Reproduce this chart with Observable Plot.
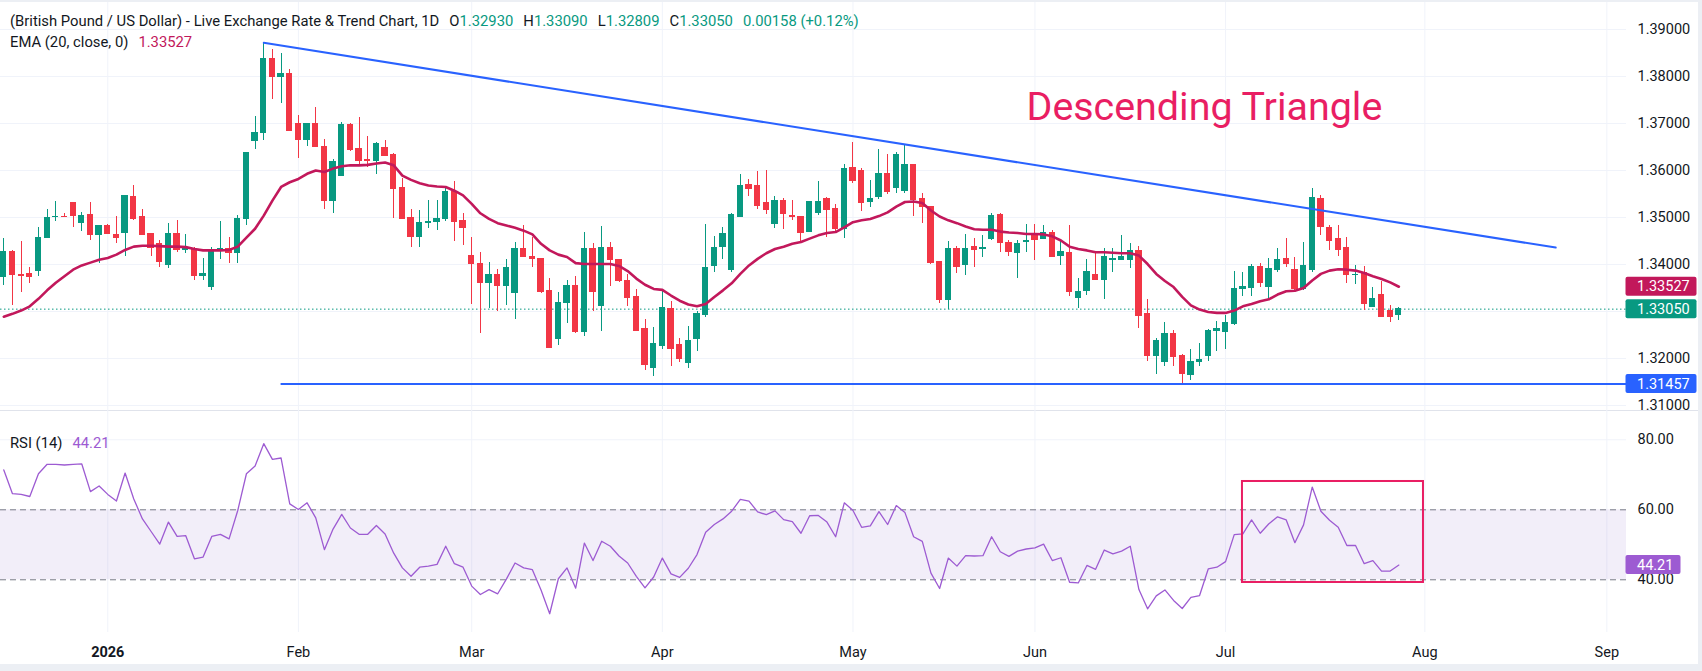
<!DOCTYPE html>
<html>
<head>
<meta charset="utf-8">
<title>GBP/USD daily chart</title>
<script src="https://cdn.jsdelivr.net/npm/d3@7"></script>
<script src="https://cdn.jsdelivr.net/npm/@observablehq/plot@0.6"></script>
<style>
  html, body { margin: 0; padding: 0; }
  body { width: 1702px; height: 671px; position: relative; overflow: hidden; background: #fff;
         font-family: Roboto, "Noto Sans", sans-serif; color: #131722; }
  .edge { position: absolute; background: #eceff4; }
  #price, #rsi { position: absolute; left: 0; }
  #price { top: 2px; }
  #rsi { top: 411px; }
  #price svg, #rsi svg { overflow: visible; }
  .sep { position: absolute; left: 0; top: 410px; width: 1698px; height: 1px; background: #e0e3eb; }
  .legend { position: absolute; left: 10px; font-size: 14.8px; line-height: 18px; white-space: nowrap; }
  .legend .gap { margin-left: 10px; }
  .up { color: #089981; }
  .ema { color: #c2185b; }
  .rsiv { color: #9d5bd2; }
</style>
</head>
<body>
<div id="rsi"></div>
<div class="sep"></div>
<div id="price"></div>
<div class="legend" id="lg1" style="top:12px"></div>
<div class="legend" id="lg2" style="top:33px"></div>
<div class="legend" id="lg3" style="top:434px"></div>
<div class="edge" style="left:0;top:0;width:1702px;height:2px"></div>
<div class="edge" style="left:1698px;top:0;width:4px;height:671px"></div>
<div class="edge" style="left:0;top:664px;width:1702px;height:7px"></div>
<script>
// Daily GBP/USD candles, one entry per trading day (mid-Dec 2025 to end of Jul 2026)
const open = [
  1.3373,1.3426,1.3378,1.3379,1.3386,1.3456,1.3501,1.3502,1.3531,1.3488,
  1.3506,1.3462,1.3481,1.3462,1.3467,1.3543,1.3500,1.3464,1.3443,1.3399,
  1.3464,1.3430,1.3433,1.3375,1.3352,1.3428,1.3433,1.3424,1.3496,1.3662,
  1.3680,1.3838,1.3799,1.3806,1.3698,1.3665,1.3698,1.3651,1.3536,1.3589,
  1.3696,1.3645,1.3622,1.3620,1.3647,1.3632,1.3562,1.3499,1.3458,1.3489,
  1.3490,1.3496,1.3555,1.3492,1.3419,1.3401,1.3360,1.3377,1.3355,1.3339,
  1.3434,1.3417,1.3412,1.3343,1.3241,1.3318,1.3355,1.3256,1.3432,1.3311,
  1.3436,1.3409,1.3365,1.3330,1.3262,1.3180,1.3226,1.3305,1.3228,1.3191,
  1.3241,1.3292,1.3397,1.3437,1.3389,1.3501,1.3570,1.3566,1.3531,1.3487,
  1.3536,1.3504,1.3502,1.3470,1.3509,1.3540,1.3518,1.3475,1.3606,1.3598,
  1.3533,1.3543,1.3593,1.3562,1.3556,1.3612,1.3540,1.3523,1.3405,1.3325,
  1.3433,1.3398,1.3438,1.3433,1.3455,1.3506,1.3446,1.3424,1.3448,1.3460,
  1.3455,1.3467,1.3418,1.3424,1.3328,1.3343,1.3377,1.3367,1.3409,1.3410,
  1.3410,1.3428,1.3294,1.3206,1.3193,1.3252,1.3205,1.3165,1.3193,1.3205,
  1.3258,1.3257,1.3273,1.3347,1.3350,1.3395,1.3353,1.3389,1.3412,1.3389,
  1.3348,1.3389,1.3539,1.3478,1.3455,1.3436,1.3377,1.3382,1.3310,1.3336,
  1.3301,1.3293
];
const high = [
  1.3456,1.3429,1.3448,1.3393,1.3479,1.3518,1.3534,1.3509,1.3531,1.3511,
  1.3531,1.3483,1.3485,1.3502,1.3547,1.3568,1.3517,1.3467,1.3451,1.3488,
  1.3494,1.3464,1.3436,1.3412,1.3436,1.3491,1.3458,1.3504,1.3638,1.3715,
  1.38716,1.3857,1.3848,1.3814,1.3717,1.3698,1.3733,1.3665,1.3623,1.3703,
  1.3699,1.3712,1.3672,1.3660,1.3664,1.3636,1.3582,1.3516,1.3515,1.3536,
  1.3536,1.3566,1.3577,1.3509,1.3458,1.3426,1.3405,1.3389,1.3411,1.3447,
  1.3483,1.3458,1.3413,1.3370,1.3340,1.3366,1.3374,1.3469,1.3444,1.3481,
  1.3447,1.3411,1.3378,1.3347,1.3284,1.3265,1.3347,1.3322,1.3243,1.3269,
  1.3301,1.3485,1.3460,1.3479,1.3509,1.3592,1.3581,1.3597,1.3600,1.3545,
  1.3540,1.3536,1.3502,1.3535,1.3577,1.3543,1.3528,1.3612,1.3659,1.3604,
  1.3579,1.3644,1.3634,1.3639,1.3655,1.3613,1.3550,1.3524,1.3405,1.3449,
  1.3438,1.3464,1.3455,1.3462,1.3509,1.3509,1.3450,1.3451,1.3485,1.3485,
  1.3483,1.3472,1.3453,1.3483,1.3370,1.3411,1.3423,1.3433,1.3433,1.3462,
  1.3445,1.3438,1.3326,1.3243,1.3276,1.3259,1.3209,1.3220,1.3232,1.3262,
  1.3278,1.3292,1.3386,1.3382,1.3399,1.3402,1.3412,1.3433,1.3455,1.3415,
  1.3447,1.3561,1.3547,1.3483,1.3482,1.3457,1.3397,1.3396,1.3351,1.3364,
  1.3313,1.3309
];
const low = [
  1.3355,1.3313,1.3341,1.3359,1.3375,1.3456,1.3492,1.3499,1.3479,1.3470,
  1.3451,1.3403,1.3463,1.3444,1.3416,1.3494,1.3462,1.3417,1.3394,1.3392,
  1.3426,1.3423,1.3365,1.3366,1.3345,1.3410,1.3403,1.3403,1.3483,1.3645,
  1.3664,1.3751,1.3743,1.3682,1.3625,1.3651,1.3648,1.3518,1.3509,1.3588,
  1.3640,1.3609,1.3607,1.3592,1.3630,1.3497,1.3496,1.3436,1.3437,1.3477,
  1.3472,1.3492,1.3448,1.3440,1.3315,1.3254,1.3306,1.3299,1.3313,1.3284,
  1.3414,1.3394,1.3339,1.3221,1.3227,1.3275,1.3254,1.3247,1.3301,1.3257,
  1.3354,1.3361,1.3311,1.3258,1.3175,1.3161,1.3220,1.3182,1.3191,1.3179,
  1.3214,1.3288,1.3382,1.3411,1.3382,1.3499,1.3545,1.3517,1.3506,1.3477,
  1.3475,1.3494,1.3448,1.3469,1.3505,1.3458,1.3469,1.3456,1.3572,1.3513,
  1.3521,1.3538,1.3549,1.3550,1.3550,1.3502,1.3487,1.3401,1.3318,1.3304,
  1.3380,1.3377,1.3394,1.3414,1.3450,1.3426,1.3417,1.3370,1.3426,1.3409,
  1.3453,1.3414,1.3398,1.3331,1.3307,1.3333,1.3366,1.3326,1.3384,1.3410,
  1.3392,1.3263,1.3194,1.3165,1.3184,1.3184,1.3144,1.3153,1.3182,1.3193,
  1.3214,1.3220,1.3270,1.3331,1.3331,1.3350,1.3328,1.3383,1.3394,1.3345,
  1.3345,1.3383,1.3461,1.3430,1.3417,1.3360,1.3357,1.3302,1.3309,1.3288,
  1.3277,1.32809
];
const close = [
  1.3426,1.3377,1.3376,1.3373,1.3457,1.3499,1.3502,1.3501,1.3503,1.3504,
  1.3462,1.3481,1.3465,1.3457,1.3545,1.3497,1.3462,1.3436,1.3405,1.3464,
  1.3430,1.3433,1.3375,1.3380,1.3428,1.3433,1.3424,1.3497,1.3638,1.3680,
  1.3838,1.3799,1.3806,1.3684,1.3665,1.3698,1.3650,1.3536,1.3619,1.3696,
  1.3643,1.3620,1.3620,1.3657,1.3631,1.3560,1.3497,1.3458,1.3489,1.3491,
  1.3497,1.3555,1.3490,1.3477,1.3400,1.3360,1.3377,1.3355,1.3392,1.3434,
  1.3417,1.3411,1.3341,1.3223,1.3319,1.3355,1.3256,1.3432,1.3341,1.3436,
  1.3409,1.3365,1.3329,1.3259,1.3186,1.3231,1.3307,1.3220,1.3199,1.3237,
  1.3294,1.3393,1.3436,1.3464,1.3506,1.3568,1.3561,1.3524,1.3515,1.3536,
  1.3508,1.3501,1.3467,1.3534,1.3534,1.3515,1.3475,1.3604,1.3577,1.3531,
  1.3540,1.3593,1.3554,1.3634,1.3611,1.3538,1.3522,1.3403,1.3325,1.3433,
  1.3394,1.3433,1.3431,1.3436,1.3504,1.3446,1.3426,1.3444,1.3451,1.3453,
  1.3467,1.3417,1.3426,1.3341,1.3341,1.3383,1.3366,1.3417,1.3412,1.3416,
  1.3428,1.3290,1.3205,1.3238,1.3252,1.3204,1.3167,1.3192,1.3197,1.3258,
  1.3262,1.3276,1.3348,1.3353,1.3395,1.3360,1.3391,1.3410,1.3401,1.3348,
  1.3397,1.3542,1.3479,1.3451,1.3431,1.3377,1.3378,1.3315,1.3327,1.3289,
  1.32892,1.3305
];
// EMA(20, close) as plotted
const ema = [
  1.3289,1.3295,1.3302,1.3311,1.3327,1.3345,1.3361,1.3375,1.3389,1.3398,
  1.3404,1.3410,1.3414,1.3421,1.3431,1.3438,1.3440,1.3440,1.3439,1.3438,
  1.3438,1.3437,1.3433,1.3430,1.3430,1.3430,1.3431,1.3438,1.3457,1.3476,
  1.3504,1.3536,1.3565,1.3575,1.3582,1.3593,1.3600,1.3597,1.3604,1.3609,
  1.3611,1.3611,1.3612,1.3615,1.3617,1.3611,1.3589,1.3580,1.3573,1.3568,
  1.3566,1.3565,1.3557,1.3547,1.3529,1.3509,1.3497,1.3488,1.3483,1.3478,
  1.3472,1.3464,1.3444,1.3430,1.3421,1.3416,1.3403,1.3401,1.3401,1.3401,
  1.3401,1.3397,1.3386,1.3370,1.3357,1.3348,1.3346,1.3334,1.3323,1.3315,
  1.3311,1.3316,1.3331,1.3345,1.3360,1.3380,1.3398,1.3412,1.3424,1.3433,
  1.3438,1.3444,1.3448,1.3455,1.3462,1.3467,1.3469,1.3479,1.3490,1.3494,
  1.3497,1.3503,1.3511,1.3523,1.3533,1.3534,1.3531,1.3515,1.3502,1.3494,
  1.3488,1.3481,1.3475,1.3474,1.3474,1.3470,1.3468,1.3467,1.3465,1.3465,
  1.3464,1.3460,1.3451,1.3438,1.3433,1.3430,1.3426,1.3426,1.3425,1.3424,
  1.3424,1.3419,1.3401,1.3380,1.3365,1.3352,1.3331,1.3313,1.3304,1.3299,
  1.3297,1.3297,1.3302,1.3311,1.3316,1.3322,1.3326,1.3336,1.3343,1.3344,
  1.3350,1.3366,1.3380,1.3387,1.3390,1.3389,1.3387,1.3382,1.3375,1.3369,
  1.3362,1.33527
];
// RSI(14)
const rsi = [
  71.4,64.6,64.4,63.8,70.3,73.0,73.0,72.8,73.0,73.1,
  65.2,66.8,64.4,62.5,70.5,63.1,57.4,53.8,50.2,56.5,
  52.4,52.6,46.0,46.5,52.4,53.0,51.7,59.8,70.3,72.5,
  78.9,74.4,74.8,61.7,60.1,62.0,57.7,48.6,54.5,58.7,
  54.8,53.0,53.0,55.5,53.1,47.6,43.4,41.0,43.6,43.9,
  44.4,49.6,44.6,43.6,38.2,35.8,37.2,36.0,40.2,44.8,
  43.4,42.9,37.1,30.3,40.3,43.4,37.6,50.5,45.5,51.0,
  49.6,46.8,44.8,41.0,37.7,40.8,46.2,41.7,40.7,43.3,
  47.2,53.6,55.8,57.4,59.6,63.0,62.5,59.4,58.6,59.7,
  57.2,56.6,53.3,58.3,58.4,56.5,52.3,62.0,59.8,55.0,
  55.4,59.5,55.8,61.2,59.2,52.3,51.0,41.9,37.5,46.2,
  43.9,46.9,46.8,46.9,52.3,48.0,46.7,48.2,48.8,49.1,
  50.2,45.5,46.3,39.3,39.1,44.1,43.0,48.5,47.4,48.2,
  49.6,37.2,31.7,35.4,37.1,34.1,31.8,35.0,35.5,43.1,
  43.6,45.2,52.9,53.1,57.1,53.3,56.0,58.0,57.1,50.6,
  55.7,66.5,59.6,57.0,55.0,49.8,49.8,44.6,45.5,42.5,
  42.5,44.21
];

// Time axis: bar index of the first session of each month
const monthIdx = [12, 34, 54, 76, 98, 119, 141, 164, 185];
const monthLabels = ["2026", "Feb", "Mar", "Apr", "May", "Jun", "Jul", "Aug", "Sep"];
const priceTicks = [1.31, 1.32, 1.34, 1.35, 1.36, 1.37, 1.38, 1.39];
const priceGrid = [1.31, 1.32, 1.33, 1.34, 1.35, 1.36, 1.37, 1.38, 1.39];
const rsiTicks = [40, 60, 80];

// Drawn pattern: descending resistance and flat support
const resistance = [{i: 30, p: 1.38716}, {i: 179.1, p: 1.3436}];
const support = 1.31457;
const supportStart = 32;
const rsiBox = {x1: 142.95, x2: 163.84, y1: 39.23, y2: 68.09};

const UP = "#089981", DN = "#f23645", GRID = "#f0f3fa";
const EMA_C = "#c2185b", BLUE = "#2962ff", PINK = "#e91e63", RSI_C = "#9d5bd2";
const FONT = "Roboto, 'Noto Sans', sans-serif";

const last = close.length - 1;
const bars = open.map((o, i) => ({i, o, h: high[i], l: low[i], c: close[i]}));
const upBars = bars.filter(d => d.c >= d.o);
const dnBars = bars.filter(d => d.c < d.o);
const emaPts = ema.map((v, i) => ({i, v}));
const rsiPts = rsi.map((v, i) => ({i, v}));

const xDomain = [-0.381, 187.27];
const W = 1698, MR = 72;

const body = (data, color) => Plot.rect(data, {
  x1: d => d.i - 0.36, x2: d => d.i + 0.36,
  y1: d => Math.min(d.o, d.c), y2: d => Math.max(d.o, d.c),
  fill: color, insetTop: -0.5, insetBottom: -0.5, shapeRendering: "crispEdges"
});
const wick = (data, color) => Plot.ruleX(data, {
  x: "i", y1: "l", y2: "h", stroke: color, strokeWidth: 1, shapeRendering: "crispEdges"
});

const price = Plot.plot({
  width: W, height: 409,
  marginLeft: 0, marginRight: MR, marginTop: 0, marginBottom: 0,
  style: {fontFamily: FONT, fontSize: "14.5px", color: "#131722", background: "transparent", overflow: "visible"},
  x: {domain: xDomain, axis: null},
  y: {domain: [1.308723, 1.395745], axis: "right", ticks: priceTicks,
      tickFormat: d => d.toFixed(5), tickSize: 0, tickPadding: 11, label: null},
  marks: [
    Plot.ruleY(priceGrid, {stroke: GRID, strokeWidth: 1}),
    Plot.ruleX(monthIdx, {stroke: GRID, strokeWidth: 1}),
    Plot.ruleY([close[last]], {stroke: UP, strokeWidth: 1, strokeDasharray: "1.5,2.5"}),
    wick(upBars, UP), wick(dnBars, DN),
    body(upBars, UP), body(dnBars, DN),
    Plot.line(emaPts, {x: "i", y: "v", stroke: EMA_C, strokeWidth: 2.6, strokeLinejoin: "round"}),
    Plot.line(resistance, {x: "i", y: "p", stroke: BLUE, strokeWidth: 2}),
    Plot.ruleY([support], {x1: supportStart, x2: xDomain[1], stroke: BLUE, strokeWidth: 2}),
    Plot.text(["Descending Triangle"], {x: 118.03, y: 1.37085, text: d => d, textAnchor: "start",
      lineAnchor: "bottom", fill: PINK, fontSize: 39.4, fontFamily: FONT})
  ]
});

const rsiChart = Plot.plot({
  width: W, height: 253,
  marginLeft: 0, marginRight: MR, marginTop: 0, marginBottom: 32,
  style: {fontFamily: FONT, fontSize: "14.5px", color: "#131722", background: "transparent", overflow: "visible"},
  x: {domain: xDomain, ticks: monthIdx, tickFormat: d => monthLabels[monthIdx.indexOf(d)],
      tickSize: 0, tickPadding: 14, label: null},
  y: {domain: [24.94, 88.09], axis: "right", ticks: rsiTicks,
      tickFormat: d => d.toFixed(2), tickSize: 0, tickPadding: 11, label: null},
  marks: [
    Plot.ruleX(monthIdx, {stroke: GRID, strokeWidth: 1}),
    Plot.ruleY([80], {stroke: GRID, strokeWidth: 1}),
    Plot.rect([{}], {x1: xDomain[0], x2: xDomain[1], y1: 40, y2: 60, fill: "#7e57c2", fillOpacity: 0.1}),
    Plot.ruleY([40, 60], {stroke: "#787b86", strokeWidth: 1, strokeDasharray: "6,4"}),
    Plot.line(rsiPts, {x: "i", y: "v", stroke: RSI_C, strokeWidth: 1.3}),
    Plot.rect([rsiBox], {x1: "x1", x2: "x2", y1: "y1", y2: "y2", fill: "none", stroke: PINK, strokeWidth: 2})
  ]
});

// Value tags on the price scale, positioned through the chart's own y scale
function tag(svg, v, text, color, width) {
  const y = svg.scale("y").apply(v);
  const g = d3.select(svg).append("g").attr("text-anchor", "start");
  g.append("rect").attr("x", W - MR - 0.5).attr("y", y - 9.5).attr("width", width).attr("height", 19)
    .attr("rx", 2).attr("fill", color);
  g.append("text").attr("x", W - MR + 11).attr("y", y).attr("dy", "0.35em")
    .attr("text-anchor", "start").attr("fill", "#fff")
    .attr("font-size", 14.5).attr("font-family", FONT).text(text);
}
tag(price, ema[last], ema[last].toFixed(5), EMA_C, 71);
tag(price, close[last], close[last].toFixed(5), UP, 71);
tag(price, support, support.toFixed(5), BLUE, 71);
tag(rsiChart, rsi[last], rsi[last].toFixed(2), RSI_C, 55);

d3.select(rsiChart).selectAll("text").filter(function () { return this.textContent === "2026"; })
  .attr("font-weight", "bold");

document.getElementById("price").appendChild(price);
document.getElementById("rsi").appendChild(rsiChart);

// Legends
const chg = close[last] - close[last - 1];
const pct = chg / close[last - 1] * 100;
document.getElementById("lg1").innerHTML =
  "(British Pound / US Dollar) - Live Exchange Rate &amp; Trend Chart, 1D" +
  `<span class="gap">O<span class="up">${open[last].toFixed(5)}</span></span>` +
  `<span class="gap">H<span class="up">${high[last].toFixed(5)}</span></span>` +
  `<span class="gap">L<span class="up">${low[last].toFixed(5)}</span></span>` +
  `<span class="gap">C<span class="up">${close[last].toFixed(5)}</span></span>` +
  `<span class="gap up">${chg.toFixed(5)} (${chg >= 0 ? "+" : ""}${pct.toFixed(2)}%)</span>`;
document.getElementById("lg2").innerHTML =
  `EMA (20, close, 0)<span class="gap ema">${ema[last].toFixed(5)}</span>`;
document.getElementById("lg3").innerHTML =
  `RSI (14)<span class="gap rsiv">${rsi[last].toFixed(2)}</span>`;
</script>
</body>
</html>
